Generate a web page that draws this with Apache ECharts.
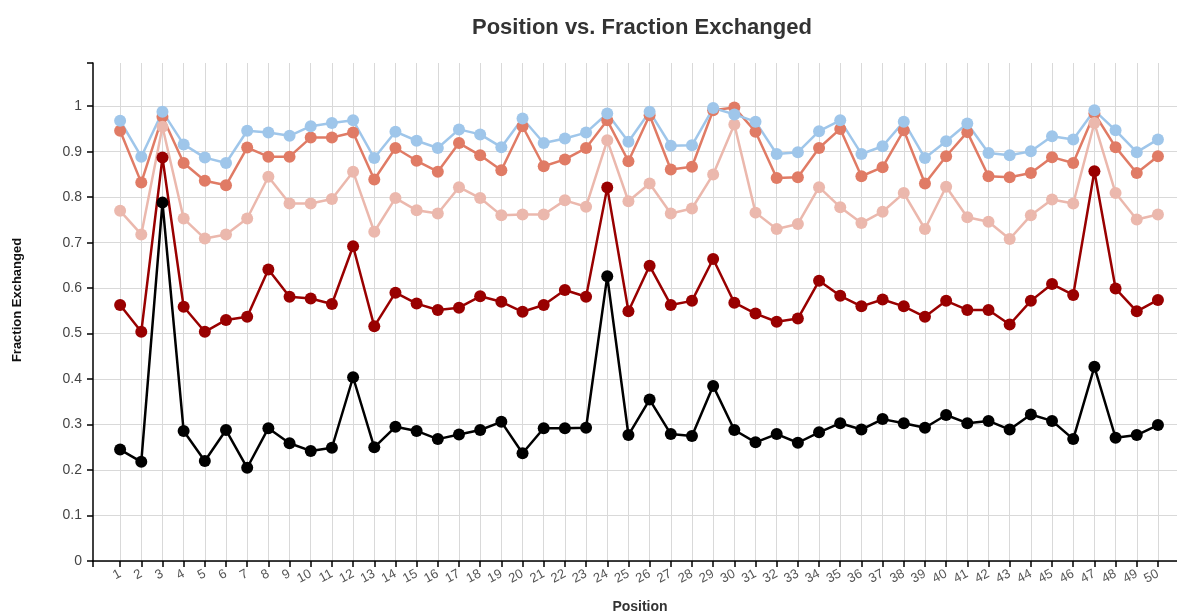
<!DOCTYPE html>
<html>
<head>
<meta charset="utf-8">
<script src="https://cdn.jsdelivr.net/npm/echarts@6/dist/echarts.min.js"></script>
<style>
  html, body { margin: 0; padding: 0; background: #fff; }
  #Fraction_Chart { width: 1177px; height: 615px; }
</style>
</head>
<body>
<div id="Fraction_Chart"></div>
<script>
// 위치 (x축)
var positions = [1,2,3,4,5,6,7,8,9,10,11,12,13,14,15,16,17,18,19,20,
                 21,22,23,24,25,26,27,28,29,30,31,32,33,34,35,36,37,38,39,40,
                 41,42,43,44,45,46,47,48,49,50];
var yTicks = [0, 0.1, 0.2, 0.3, 0.4, 0.5, 0.6, 0.7, 0.8, 0.9, 1];

// 각 시리즈 값
var blackVals = [0.245,0.218,0.788,0.286,0.220,0.288,0.205,0.292,0.259,0.242,
                 0.249,0.404,0.250,0.295,0.286,0.268,0.278,0.288,0.306,0.237,
                 0.292,0.292,0.293,0.626,0.277,0.355,0.279,0.275,0.385,0.288,
                 0.261,0.279,0.260,0.283,0.303,0.289,0.312,0.303,0.293,0.321,
                 0.303,0.308,0.289,0.322,0.308,0.268,0.427,0.271,0.277,0.299];
var darkRedVals = [0.563,0.504,0.887,0.559,0.504,0.530,0.537,0.641,0.581,0.577,
                   0.565,0.692,0.516,0.590,0.566,0.552,0.557,0.582,0.570,0.548,
                   0.563,0.596,0.581,0.821,0.549,0.649,0.563,0.572,0.664,0.568,
                   0.544,0.526,0.533,0.616,0.583,0.560,0.575,0.560,0.537,0.572,
                   0.552,0.552,0.520,0.572,0.609,0.585,0.857,0.599,0.549,0.574];
var pinkVals = [0.770,0.718,0.955,0.753,0.709,0.718,0.753,0.845,0.786,0.786,
                0.796,0.856,0.724,0.798,0.771,0.764,0.822,0.798,0.760,0.762,
                0.762,0.793,0.779,0.925,0.791,0.830,0.764,0.775,0.850,0.960,
                0.766,0.730,0.741,0.822,0.778,0.743,0.768,0.809,0.730,0.823,
                0.756,0.746,0.708,0.760,0.795,0.786,0.963,0.809,0.751,0.762];
var orangeVals = [0.946,0.832,0.977,0.875,0.836,0.826,0.909,0.889,0.889,0.931,
                  0.931,0.942,0.839,0.908,0.880,0.856,0.919,0.892,0.859,0.956,
                  0.868,0.883,0.908,0.969,0.879,0.980,0.861,0.867,0.991,0.997,
                  0.944,0.842,0.844,0.908,0.950,0.846,0.866,0.947,0.830,0.890,
                  0.943,0.846,0.844,0.853,0.888,0.875,0.984,0.910,0.853,0.890];
var blueVals = [0.968,0.889,0.988,0.916,0.887,0.875,0.946,0.942,0.935,0.956,
                0.963,0.969,0.886,0.944,0.924,0.908,0.949,0.938,0.910,0.973,
                0.919,0.929,0.942,0.984,0.922,0.988,0.913,0.914,0.996,0.982,
                0.966,0.895,0.899,0.945,0.969,0.895,0.912,0.966,0.886,0.923,
                0.962,0.897,0.892,0.901,0.934,0.927,0.991,0.947,0.899,0.927];

function pairs(vals) {
  return positions.map(function (p, i) { return [p, vals[i]]; });
}

function makeSeries(name, vals, color) {
  return {
    name: name,
    type: 'line',
    data: pairs(vals),
    symbol: 'circle',
    symbolSize: 12,
    showAllSymbol: true,
    lineStyle: { color: color, width: 2.5 },
    itemStyle: { color: color },
    emphasis: { disabled: true },
    animation: false
  };
}

var myChart = echarts.init(document.getElementById('Fraction_Chart'), null, { renderer: 'canvas' });
var option = {
  backgroundColor: '#fff',
  title: {
    text: 'Position vs. Fraction Exchanged',
    left: 467,
    top: 12,
    textStyle: { fontFamily: 'Liberation Sans', fontSize: 22, fontWeight: 'bold', color: '#333' }
  },
  grid: {
    left: 93, // 좌측 여백
    right: 0, // 우측 여백
    top: 63, // 상단 여백
    bottom: 54, // 하단 여백
    containLabel: false,
    outerBoundsMode: 'none'
  },
  xAxis: {
    type: 'value',
    min: -0.28,
    max: 50.9,
    name: 'Position',
    nameLocation: 'middle',
    nameGap: 39,
    nameTextStyle: { fontFamily: 'Liberation Sans', fontSize: 14, fontWeight: 'bold', color: '#333', padding: [0, 0, 0, 10] },
    axisLine: { show: true, onZero: false, lineStyle: { color: '#000', width: 1.5 } },
    axisTick: { show: true, length: 6, customValues: [-0.28].concat(positions), lineStyle: { color: '#000', width: 1.5 } },
    axisLabel: {
      customValues: positions,
      rotate: 28,
      margin: 12,
      fontFamily: 'Liberation Sans',
      fontSize: 13,
      color: '#555'
    },
    splitLine: { show: true, showMinLine: false, lineStyle: { color: '#d9d9d9', width: 1 } }
  },
  yAxis: {
    type: 'value',
    min: 0,
    max: 1.095,
    name: 'Fraction Exchanged',
    nameLocation: 'middle',
    nameGap: 69,
    nameTextStyle: { fontFamily: 'Liberation Sans', fontSize: 13, fontWeight: 'bold', color: '#111', padding: [0, 0, 0, 24] },
    axisLine: { show: true, onZero: false, lineStyle: { color: '#000', width: 1.5 } },
    axisTick: { show: true, length: 6, customValues: yTicks.concat([1.095]), lineStyle: { color: '#000', width: 1.5 } },
    axisLabel: {
      customValues: yTicks,
      margin: 11,
      fontFamily: 'Liberation Sans',
      fontSize: 14,
      color: '#444',
      formatter: function (v) { return String(Math.round(v * 10) / 10); }
    },
    splitLine: { show: true, showMaxLine: false, lineStyle: { color: '#d9d9d9', width: 1 } }
  },
  series: [
    makeSeries('black', blackVals, '#000000'),
    makeSeries('darkred', darkRedVals, '#990000'),
    makeSeries('orange', orangeVals, '#e07b65'),
    makeSeries('pink', pinkVals, '#ebb8ad'),
    makeSeries('blue', blueVals, '#9fc6ea')
  ]
};
myChart.setOption(option);
window.addEventListener('resize', myChart.resize);
</script>
</body>
</html>
